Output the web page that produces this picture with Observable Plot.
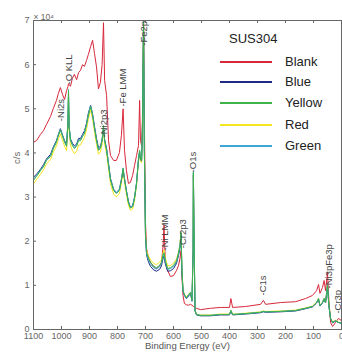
<!DOCTYPE html>
<html><head><meta charset="utf-8">
<script src="https://cdn.jsdelivr.net/npm/d3@7"></script>
<script src="https://cdn.jsdelivr.net/npm/@observablehq/plot@0.6"></script>
<style>
body{margin:0;background:#fff;font-family:"Liberation Sans",Arial,sans-serif;}
#wrap{position:relative;width:342px;height:356px;overflow:hidden;}
#legend{position:absolute;left:0;top:0;width:342px;height:356px;pointer-events:none;color:#222;}
.lt{position:absolute;font-size:13px;line-height:14px;}
.ll{position:absolute;height:2px;width:52px;left:220px;}
</style></head>
<body><div id="wrap"><div id="legend"></div></div>
<script>
const energy = [1100,1089,1075,1064,1054,1039,1029,1018,1011,1004,996,989,982,977,975,973,968,961,954,946,939,932,925,918,911,904,896,889,882,875,868,861,855,850,846,839,832,825,814,804,793,786,780,775,768,761,754,746,739,732,725,721,718,714,711,707,704,700,696,689,682,671,661,650,643,637,634,629,621,611,600,589,582,577,573,570,566,561,554,546,539,534,530,529,526,523,518,504,468,432,400,395,389,343,289,279,271,218,164,129,104,89,82,77,68,62,57,50,45,39,32,21,11,0];
const blank = [4.24,4.28,4.42,4.51,4.64,4.83,5.01,5.19,5.35,5.48,5.32,5.21,5.41,5.50,5.57,5.55,5.51,5.69,5.78,5.66,5.82,5.87,6.00,5.96,6.09,6.23,6.41,6.55,6.25,5.95,5.45,5.60,6.00,6.95,5.64,5.30,4.28,3.94,3.83,3.83,4.01,4.40,5.00,4.06,3.60,3.31,3.33,3.49,3.72,3.94,4.17,5.19,4.28,4.17,4.73,7.00,4.73,2.42,1.83,1.61,1.52,1.43,1.38,1.43,1.52,1.90,2.36,1.52,1.34,1.20,1.22,1.34,1.45,1.61,1.79,1.22,0.77,0.59,0.56,0.55,0.57,0.55,0.53,0.52,0.52,0.50,0.48,0.45,0.48,0.50,0.50,0.70,0.50,0.52,0.57,0.66,0.57,0.61,0.63,0.70,0.77,0.88,1.02,0.82,0.95,1.11,0.88,1.29,0.66,0.16,0.07,0.16,0.25,0.20];
const blue = [3.45,3.52,3.63,3.74,3.86,3.97,4.14,4.28,4.42,4.55,4.40,4.28,4.20,4.66,5.30,4.60,4.32,4.22,4.16,4.20,4.33,4.33,4.42,4.50,4.66,4.90,5.08,4.88,4.60,4.33,4.12,4.15,4.30,4.55,4.30,4.10,3.76,3.42,3.18,3.10,3.18,3.40,3.60,3.42,3.14,2.90,2.77,2.80,3.00,3.32,3.85,4.02,3.84,3.82,4.45,6.90,4.02,2.08,1.68,1.52,1.43,1.35,1.32,1.36,1.44,1.62,1.66,1.48,1.32,1.33,1.38,1.50,1.68,1.85,2.12,1.32,0.86,0.77,0.70,0.76,0.81,0.64,1.75,3.50,1.75,0.42,0.33,0.31,0.31,0.33,0.33,0.41,0.33,0.35,0.38,0.40,0.39,0.40,0.42,0.47,0.51,0.60,0.68,0.53,0.60,0.68,0.60,0.98,0.53,0.24,0.15,0.19,0.16,0.14];
const yellow = [3.38,3.47,3.60,3.69,3.83,3.92,4.10,4.24,4.40,4.51,4.37,4.24,4.15,4.70,5.41,4.62,4.28,4.17,4.10,4.15,4.28,4.28,4.37,4.44,4.62,4.85,5.05,4.85,4.55,4.28,4.06,4.10,4.28,4.62,4.28,4.06,3.72,3.38,3.15,3.08,3.15,3.38,3.65,3.40,3.12,2.88,2.75,2.78,2.98,3.30,3.87,4.06,3.85,3.83,4.50,6.95,4.06,2.13,1.74,1.61,1.52,1.43,1.40,1.45,1.52,1.70,1.74,1.56,1.38,1.40,1.45,1.56,1.74,1.90,2.20,1.38,0.88,0.79,0.72,0.79,0.84,0.66,1.79,3.56,1.79,0.43,0.34,0.32,0.32,0.34,0.34,0.43,0.34,0.36,0.39,0.41,0.40,0.41,0.43,0.48,0.52,0.61,0.70,0.54,0.61,0.70,0.61,1.00,0.54,0.25,0.16,0.20,0.16,0.14];
const red = [3.30,3.40,3.52,3.62,3.75,3.85,4.02,4.16,4.32,4.43,4.28,4.15,4.05,4.60,5.35,4.52,4.18,4.06,3.98,4.04,4.18,4.18,4.27,4.35,4.52,4.76,4.98,4.76,4.46,4.20,3.97,4.02,4.20,4.55,4.20,3.98,3.64,3.30,3.07,3.00,3.08,3.32,3.58,3.33,3.05,2.82,2.70,2.73,2.93,3.25,3.82,4.00,3.80,3.78,4.45,6.92,4.00,2.15,1.78,1.66,1.58,1.50,1.47,1.52,1.58,1.75,1.80,1.62,1.44,1.45,1.50,1.60,1.76,1.90,2.15,1.40,0.90,0.80,0.73,0.80,0.85,0.67,1.76,3.52,1.76,0.44,0.35,0.33,0.33,0.35,0.35,0.44,0.35,0.37,0.40,0.42,0.41,0.42,0.44,0.49,0.53,0.62,0.71,0.55,0.62,0.71,0.62,1.01,0.55,0.26,0.17,0.21,0.17,0.15];
const green = [3.40,3.49,3.61,3.71,3.84,3.94,4.12,4.26,4.42,4.53,4.39,4.26,4.17,4.72,5.44,4.64,4.30,4.19,4.12,4.17,4.30,4.30,4.39,4.46,4.64,4.87,5.07,4.87,4.57,4.30,4.08,4.12,4.30,4.60,4.30,4.08,3.74,3.40,3.17,3.10,3.17,3.40,3.66,3.42,3.14,2.90,2.77,2.80,3.00,3.32,3.88,4.06,3.86,3.84,4.52,6.98,4.08,2.10,1.70,1.57,1.48,1.40,1.37,1.42,1.49,1.68,1.72,1.53,1.36,1.38,1.43,1.54,1.72,1.88,2.18,1.36,0.87,0.78,0.71,0.78,0.83,0.65,1.80,3.58,1.80,0.43,0.34,0.32,0.32,0.34,0.34,0.43,0.34,0.36,0.39,0.41,0.40,0.41,0.43,0.48,0.52,0.61,0.70,0.54,0.61,0.70,0.61,1.00,0.54,0.25,0.16,0.20,0.16,0.14];

const seriesNames = ["Blank","Blue","Yellow","Red","Green"];
const seriesColors = ["#d8273a","#1f2a86","#3db34a","#f3e520","#3ea6d6"];
const drawOrder = ["Blank","Red","Blue","Green","Yellow"];
const seriesValues = {Blank: blank, Blue: blue, Yellow: yellow, Red: red, Green: green};

const xTicks = [1100,1000,900,800,700,600,500,400,300,200,100,0];
const yTicks = [0,1,2,3,4,5,6,7];

const peakLabels = ["-Ni2s","-O KLL","-Ni2p3","-Fe LMM","-Fe2p","-Ni LMM","-Cr2p3","-O1s","-C1s","-Ni3pFe3p","-Cr3p"];
const peakEnergy = [1003,975,848,779,707,632,568,529,279,46,14];
const peakLevel  = [4.72,5.55,4.35,5.05,6.43,1.79,1.84,3.56,0.77,0.93,0.36];

const W = 342, H = 356, mL = 33, mR = 1, mT = 20, mB = 27;
const pw = W - mL - mR, ph = H - mT - mB;

const lineMarks = drawOrder.map(name => {
  const vals = seriesValues[name];
  const data = energy.map((e, i) => ({e, v: vals[i]}));
  return Plot.line(data, {x: "e", y: "v", stroke: seriesColors[seriesNames.indexOf(name)], strokeWidth: 1, clip: true});
});
const peaks = peakLabels.map((t, i) => ({t, e: peakEnergy[i], v: peakLevel[i]}));

const chart = Plot.plot({
  width: W, height: H,
  marginLeft: mL, marginRight: mR, marginTop: mT, marginBottom: mB,
  style: {fontFamily: '"Liberation Sans", Arial, sans-serif', background: "transparent"},
  x: {domain: [1100, 0]},
  y: {domain: [0, 7]},
  marks: [
    ...lineMarks,
    Plot.text(peaks, {x: "e", y: "v", text: "t", rotate: -90, textAnchor: "start", lineAnchor: "middle", fontSize: 9.5, fill: "#444"}),
    Plot.frame({stroke: "#666", strokeWidth: 1}),
    Plot.ruleX(xTicks, {x: d => d, insetTop: ph - 3, stroke: "#666"}),
    Plot.ruleX(xTicks, {x: d => d, insetBottom: ph - 3, stroke: "#666"}),
    Plot.ruleY(yTicks, {y: d => d, insetRight: pw - 3, stroke: "#666"}),
    Plot.axisX({ticks: xTicks, tickFormat: d => String(d), tickSize: 0, tickPadding: 3, label: null, fontSize: 9, color: "#666"}),
    Plot.axisY({ticks: yTicks, tickFormat: d => String(d), tickSize: 0, tickPadding: 4, label: null, fontSize: 9, color: "#666"}),
    Plot.text(["Binding Energy (eV)"], {frameAnchor: "bottom", dy: 19, text: d => d, fontSize: 9.5, fill: "#555"}),
    Plot.text(["c/s"], {frameAnchor: "left", dx: -17, dy: -11, rotate: -90, text: d => d, fontSize: 9.5, fill: "#666"}),
    Plot.text(["× 10⁴"], {frameAnchor: "top-left", dx: 0, dy: -7, textAnchor: "start", text: d => d, fontSize: 8.5, fill: "#666"})
  ]
});
document.getElementById("wrap").prepend(chart);

const legendTitle = "SUS304";
const lg = document.getElementById("legend");
const title = document.createElement("div");
title.className = "lt"; title.textContent = legendTitle;
title.style.left = "229px"; title.style.top = "32px";
lg.appendChild(title);
const rowY = [62, 82, 103, 125, 146];
seriesNames.forEach((n, i) => {
  const l = document.createElement("div");
  l.className = "ll"; l.style.top = (rowY[i] - 1) + "px"; l.style.background = seriesColors[i];
  lg.appendChild(l);
  const t = document.createElement("div");
  t.className = "lt"; t.textContent = n; t.style.left = "285px"; t.style.top = (rowY[i] - 7) + "px";
  lg.appendChild(t);
});
</script></body></html>
